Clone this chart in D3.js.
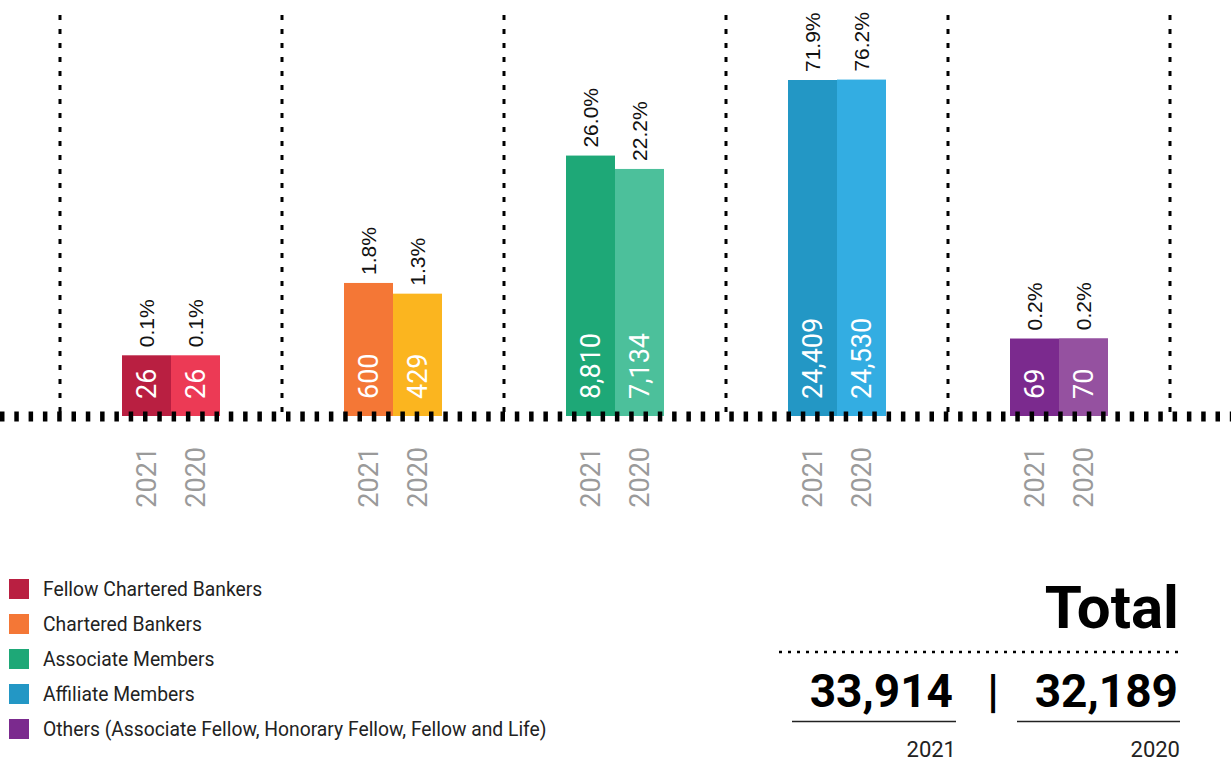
<!DOCTYPE html>
<html>
<head>
<meta charset="utf-8">
<script src="https://cdn.jsdelivr.net/npm/d3@7"></script>
<style>
  body { margin: 0; background: #fff; }
  svg { display: block; font-family: Roboto, "Noto Sans", sans-serif; }
</style>
</head>
<body>
<div id="graf"></div>
<script>
const categories = [
  "Fellow Chartered Bankers",
  "Chartered Bankers",
  "Associate Members",
  "Affiliate Members",
  "Others (Associate Fellow, Honorary Fellow, Fellow and Life)",
];
const years = ["2021", "2020"];
const values2021 = [26, 600, 8810, 24409, 69];
const values2020 = [26, 429, 7134, 24530, 70];
const share2021 = ["0.1%", "1.8%", "26.0%", "71.9%", "0.2%"];
const share2020 = ["0.1%", "1.3%", "22.2%", "76.2%", "0.2%"];
const totals = [33914, 32189];
const colors2021 = ["#b91f41", "#f47736", "#1ea877", "#2397c5", "#7b2a8e"];
const colors2020 = ["#ec3a55", "#fbb51f", "#4cc09b", "#33ade2", "#9551a0"];

const ancho_total = 1231;
const alto_total = 762;
const base = 416;

const svg = d3
  .select("#graf")
  .append("svg")
  .attr("width", ancho_total)
  .attr("height", alto_total);

const x = d3.scaleBand().domain(categories).range([60, 1170]);
const xYear = d3.scaleBand().domain(years).range([-49, 49]);
const y = d3.scalePow().exponent(0.25).domain([0, 24409]).range([base, 80]);

const fmt = d3.format(",");

// build rows
const rows = [];
categories.forEach((c, i) => {
  rows.push({ cat: c, year: "2021", value: values2021[i], share: share2021[i], color: colors2021[i] });
  rows.push({ cat: c, year: "2020", value: values2020[i], share: share2020[i], color: colors2020[i] });
});

const cx = (d) => x(d.cat) + x.bandwidth() / 2 + xYear(d.year);
const mid = (d) => cx(d) + xYear.bandwidth() / 2;

// vertical separators
const seps = categories.map((c) => x(c)).concat([x.range()[1]]);
svg
  .append("g")
  .selectAll("line")
  .data(seps)
  .join("line")
  .attr("x1", (d) => d)
  .attr("x2", (d) => d)
  .attr("y1", 15)
  .attr("y2", base)
  .attr("stroke", "#000")
  .attr("stroke-width", 3)
  .attr("stroke-dasharray", "5,9");

// bars
svg
  .append("g")
  .selectAll("rect")
  .data(rows)
  .join("rect")
  .attr("x", (d) => cx(d))
  .attr("y", (d) => y(d.value))
  .attr("width", xYear.bandwidth())
  .attr("height", (d) => base - y(d.value))
  .attr("fill", (d) => d.color);

// values inside bars
svg
  .append("g")
  .selectAll("text")
  .data(rows)
  .join("text")
  .attr("transform", (d) => `translate(${mid(d)},399) rotate(-90)`)
  .attr("dominant-baseline", "central")
  .attr("fill", "#fff")
  .attr("font-size", 27)
  .text((d) => fmt(d.value));

// share labels on top
svg
  .append("g")
  .selectAll("text")
  .data(rows)
  .join("text")
  .attr("transform", (d) => `translate(${mid(d)},${y(d.value) - 8}) rotate(-90)`)
  .attr("dominant-baseline", "central")
  .attr("fill", "#111")
  .attr("font-family", "'Liberation Sans', Arial, sans-serif")
  .attr("font-size", 21)
  .text((d) => d.share);

// year labels below
svg
  .append("g")
  .selectAll("text")
  .data(rows)
  .join("text")
  .attr("transform", (d) => `translate(${mid(d)},447) rotate(-90)`)
  .attr("dominant-baseline", "central")
  .attr("text-anchor", "end")
  .attr("fill", "#9a9a9a")
  .attr("font-size", 27)
  .text((d) => d.year);

// baseline
svg
  .append("line")
  .attr("x1", 0)
  .attr("x2", ancho_total)
  .attr("y1", base + 0.5)
  .attr("y2", base + 0.5)
  .attr("stroke", "#000")
  .attr("stroke-width", 10)
  .attr("stroke-dasharray", "4.5,9.8");

// legend
const leg = svg
  .append("g")
  .selectAll("g")
  .data(categories)
  .join("g")
  .attr("transform", (d, i) => `translate(9,${579 + i * 35})`);

leg
  .append("rect")
  .attr("width", 20)
  .attr("height", 20)
  .attr("fill", (d, i) => colors2021[i]);

leg
  .append("text")
  .attr("x", 34)
  .attr("y", 10)
  .attr("dominant-baseline", "central")
  .attr("font-size", 19.3)
  .attr("fill", "#222")
  .text((d) => d);

// totals block
const tot = svg.append("g");

tot
  .append("text")
  .attr("x", 1179)
  .attr("y", 628)
  .attr("text-anchor", "end")
  .attr("font-size", 60)
  .attr("font-weight", 700)
  .attr("fill", "#000")
  .text("Total");

tot
  .append("line")
  .attr("x1", 779)
  .attr("x2", 1180)
  .attr("y1", 652)
  .attr("y2", 652)
  .attr("stroke", "#000")
  .attr("stroke-width", 2.5)
  .attr("stroke-dasharray", "3,6");

const totX = [953, 1178];
const lineX = [[792, 956], [1017, 1180]];

tot
  .selectAll(".num")
  .data(totals)
  .join("text")
  .attr("class", "num")
  .attr("x", (d, i) => totX[i])
  .attr("y", 707)
  .attr("text-anchor", "end")
  .attr("font-size", 46)
  .attr("font-weight", 700)
  .attr("fill", "#000")
  .text((d) => fmt(d));

tot
  .append("text")
  .attr("x", 993)
  .attr("y", 707)
  .attr("text-anchor", "middle")
  .attr("font-size", 46)
  .attr("font-weight", 700)
  .text("|");

tot
  .selectAll(".ul")
  .data(lineX)
  .join("line")
  .attr("class", "ul")
  .attr("x1", (d) => d[0])
  .attr("x2", (d) => d[1])
  .attr("y1", 721.5)
  .attr("y2", 721.5)
  .attr("stroke", "#222")
  .attr("stroke-width", 1.5);

tot
  .selectAll(".yr")
  .data(years)
  .join("text")
  .attr("class", "yr")
  .attr("x", (d, i) => lineX[i][1])
  .attr("y", 757)
  .attr("text-anchor", "end")
  .attr("font-size", 22)
  .attr("fill", "#222")
  .text((d) => d);
</script>
</body>
</html>
